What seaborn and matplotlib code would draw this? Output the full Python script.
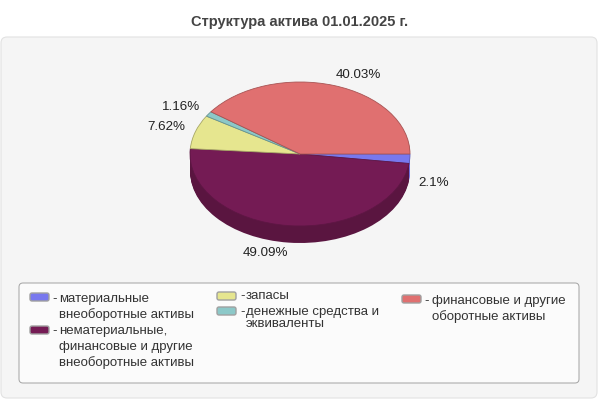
import matplotlib
matplotlib.use("Agg")
import matplotlib.pyplot as plt
from matplotlib.patches import FancyBboxPatch
import seaborn as sns

title = "Структура актива 01.01.2025 г."
values = [2.1, 49.09, 7.62, 1.16, 40.03]
colors = ["#7878EE", "#741B54", "#E6E68F", "#8CC8C8", "#E07070"]
side_colors = ["#7070E0", "#5A1540", "#B4B46E", "#6C9C9C", "#AE5656"]
edge_colors = ["#5E5EB8", "#5E1644", "#A8A868", "#669494", "#A85454"]
label_pos = [(434, 182.5), (265, 253.5), (166, 126.5), (181.5, 106.5), (358, 75.5)]
legend_lines = [
    ["материальные", "внеоборотные активы"],
    ["нематериальные,", "финансовые и другие", "внеоборотные активы"],
    ["запасы"],
    ["денежные средства и", "эквиваленты"],
    ["финансовые и другие", "оборотные активы"],
]
legend_swatch = [(30, 293), (30, 326), (217, 292), (217, 307), (402, 295)]
legend_dash_x = [52, 52, 240, 240, 424]
legend_text_x = [59, 59, 246, 246, 432]
legend_text_y = [299, 331, 296, 312, 301]
legend_pitch = [16, 15.7, 16, 12, 16]

W, H = 600, 400
sns.set_theme(style="white")
plt.rcParams["font.family"] = ["Liberation Sans", "DejaVu Sans"]

fig = plt.figure(figsize=(W / 100, H / 100), dpi=100, facecolor="white")

# pixel coordinate layer for panel, text and legend
bg = fig.add_axes([0, 0, 1, 1], zorder=0)
bg.set_xlim(0, W)
bg.set_ylim(H, 0)
bg.axis("off")
bg.add_patch(FancyBboxPatch((1, 37), 596, 361, boxstyle="round,pad=0,rounding_size=6",
                            fc="#F5F5F5", ec="#E2E2E2", lw=0.8))
bg.add_patch(FancyBboxPatch((22, 286), 554, 94, boxstyle="round,pad=3,rounding_size=4",
                            fc="#FBFBFB", ec="#A8A8A8", lw=0.75))

# pie: ellipse made by letting the axes stretch
cx, cy, rx, ry, depth = 300, 154, 110, 72, 17
pie_ax = fig.add_axes([(cx - rx) / W, 1 - (cy + ry + depth) / H, 2 * rx / W, (2 * ry + depth) / H],
                      zorder=1)
for d in range(depth, 0, -1):
    pie_ax.pie(values, colors=side_colors, startangle=0, counterclock=False,
               center=(0, -d / ry), radius=1, wedgeprops={"lw": 0})
pie_ax.pie(values, colors=colors, startangle=0, counterclock=False, center=(0, 0), radius=1,
           wedgeprops={"lw": 0.6})
for w, ec in zip(pie_ax.patches[-len(values):], edge_colors):
    w.set_edgecolor(ec)
pie_ax.set_aspect("auto")
pie_ax.set_xlim(-1, 1)
pie_ax.set_ylim(-1 - depth / ry, 1)
pie_ax.axis("off")

# text layer
fg = fig.add_axes([0, 0, 1, 1], zorder=2)
fg.set_xlim(0, W)
fg.set_ylim(H, 0)
fg.axis("off")
fg.patch.set_alpha(0)

fg.text(W / 2, 22, title, ha="center", va="center", fontsize=10.5, fontweight="bold", color="#444444")

for v, (x, y) in zip(values, label_pos):
    fg.text(x, y, f"{v}%", ha="center", va="center", fontsize=9.6, color="#222222")

for i, lines in enumerate(legend_lines):
    sx, sy = legend_swatch[i]
    fg.add_patch(FancyBboxPatch((sx + 1, sy + 1), 17, 6, boxstyle="round,pad=1,rounding_size=2",
                                fc=colors[i], ec="#A0A0A0", lw=1))
    fg.text(legend_dash_x[i], legend_text_y[i], "-", ha="left", va="center", fontsize=9.5, color="#333333")
    for n, line in enumerate(lines):
        fg.text(legend_text_x[i], legend_text_y[i] + n * legend_pitch[i], line, ha="left", va="center",
                fontsize=9.5, color="#333333")

fig.savefig("out.png", dpi=100, facecolor="white")
